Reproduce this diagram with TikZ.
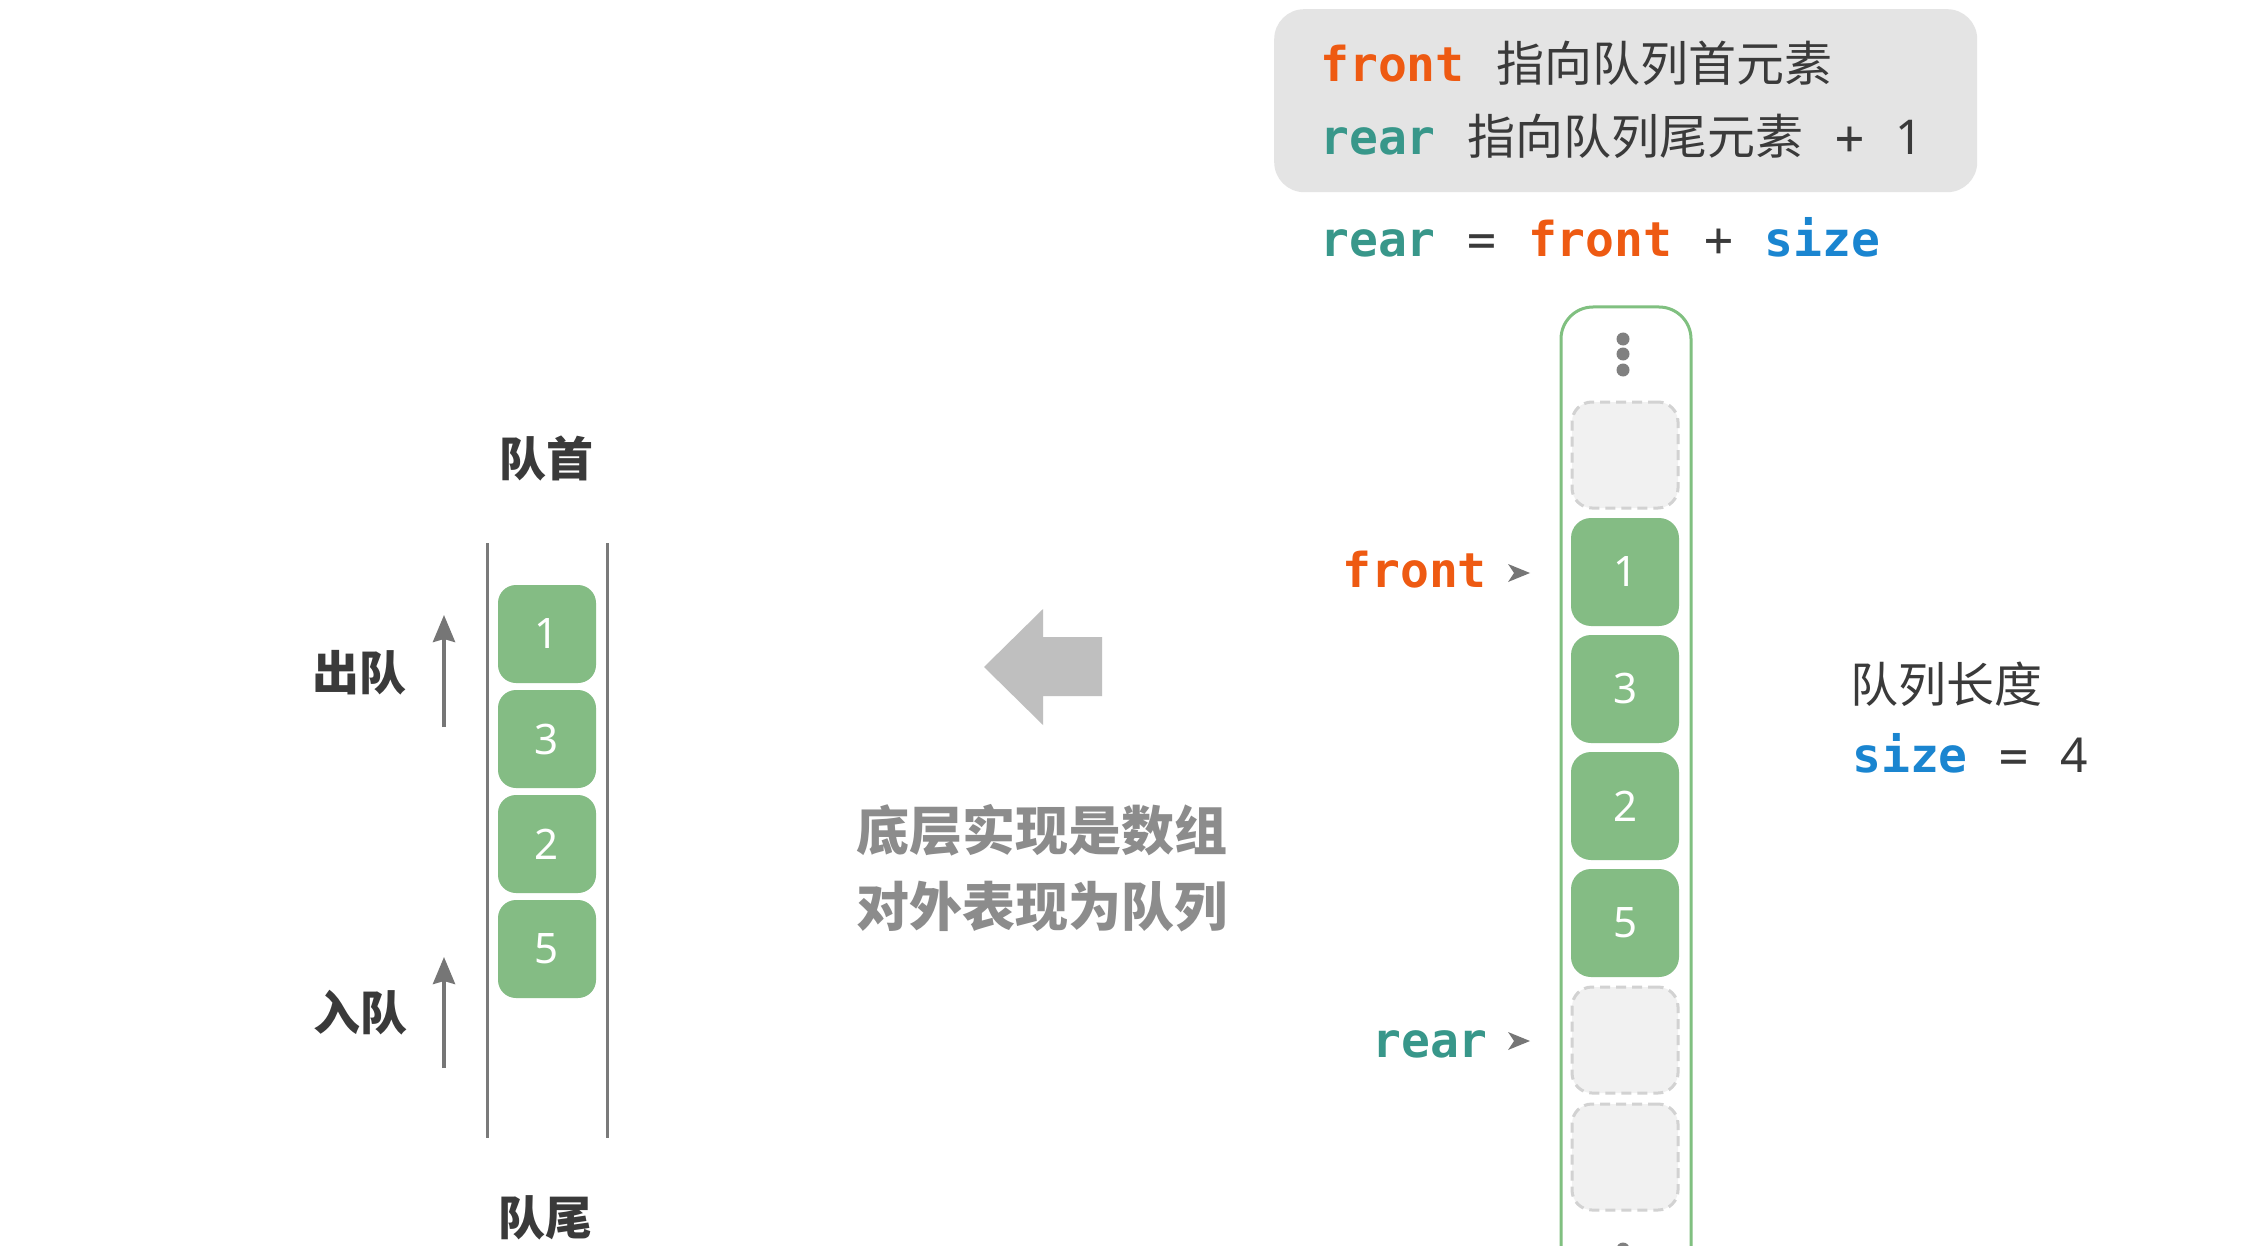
\documentclass[tikz,border=0pt]{standalone}
\usepackage{fontspec}
\setmonofont{DejaVu Sans Mono}
\newfontfamily\cjk{Noto Sans CJK SC}
\newfontfamily\numfont{Noto Sans}
\usetikzlibrary{arrows.meta}
\definecolor{frontc}{HTML}{EE5A12}
\definecolor{rearc}{HTML}{38978A}
\definecolor{sizec}{HTML}{1A85D0}
\definecolor{txt}{HTML}{3A3A3A}
\definecolor{cellg}{HTML}{84BC84}
\definecolor{borderg}{HTML}{80C080}
\definecolor{emptyf}{HTML}{F1F1F1}
\definecolor{emptyd}{HTML}{D2D2D2}
\definecolor{legbg}{HTML}{E4E4E4}
\definecolor{arrowg}{HTML}{767676}
\definecolor{lineg}{HTML}{7A7A7A}
\definecolor{bigarrow}{HTML}{BFBFBF}
\definecolor{midtxt}{HTML}{8C8C8C}
\definecolor{dotg}{HTML}{808080}
\newcommand\myfs[1]{\fontsize{#1}{#1}\selectfont}
\newcommand\msp{\hspace{0.66em}}
\tikzset{
  cell/.style={rounded corners=20, minimum width=108, minimum height=108, inner sep=0,
    fill=cellg, text=white, font=\numfont\myfs{42}},
  lcell/.style={cell, rounded corners=18, minimum width=98, minimum height=98},
  emptycell/.style={rounded corners=20, minimum width=106, minimum height=106, inner sep=0,
    fill=emptyf, draw=emptyd, line width=3, dash pattern=on 10 off 6},
  kw/.style={font=\ttfamily\bfseries\myfs{48}, inner sep=0, anchor=base west},
  lbl/.style={font=\cjk\bfseries\myfs{47}, text=txt, inner sep=0},
  midlbl/.style={font=\cjk\bfseries\myfs{53}, text=midtxt, inner sep=0},
  uparrow/.style={line width=4, draw=arrowg, -{Stealth[length=27pt, width=22pt, inset=3pt]}},
  chan/.style={line width=3, draw=lineg},
  ptr/.style={fill=arrowg}
}
\begin{document}
\begin{tikzpicture}[x=1pt,y=-1pt]
\useasboundingbox (0,0) rectangle (2258,1246);
\fill[white] (0,0) rectangle (2258,1246);

% legend box
\node[fill=legbg, rounded corners=30, minimum width=703, minimum height=183, inner sep=0, anchor=north west] (legend) at (1274,9) {};
\node[kw] (l1) at (1320,82) {{\color{frontc}front}\msp{\cjk\mdseries\color{txt}指向队列首元素}};
\node[kw] (l2) at (1320,155) {{\color{rearc}rear}\msp{\cjk\mdseries\color{txt}指向队列尾元素}{\mdseries\color{txt}\msp+\msp{\numfont 1}}};
\node[kw] (l3) at (1320,257) {{\color{rearc}rear}{\mdseries\color{txt}\msp=\msp}{\color{frontc}front}{\mdseries\color{txt}\msp+\msp}{\color{sizec}size}};

% left queue
\node[lbl] (head) at (546,458) {队首};
\node[lbl] (tail) at (545,1218) {队尾};
\node[lbl] (deq) at (359,673) {出队};
\node[lbl] (enq) at (360,1013) {入队};
\coordinate (chl1) at (487,543); \coordinate (chl2) at (487,1138);
\coordinate (chr1) at (607,543); \coordinate (chr2) at (607,1138);
\draw[chan] (chl1) -- (chl2);
\draw[chan] (chr1) -- (chr2);
\node[lcell] (q1) at (547,634) {1};
\node[lcell] (q3) at (547,739) {3};
\node[lcell] (q2) at (547,844) {2};
\node[lcell] (q5) at (547,949) {5};
\coordinate (deqs) at (444,727); \coordinate (deqe) at (444,615);
\coordinate (enqs) at (444,1068); \coordinate (enqe) at (444,957);
\draw[uparrow] (deqs) -- (deqe);
\draw[uparrow] (enqs) -- (enqe);

% middle
\fill[bigarrow] (984,667) -- (1043,609) -- (1043,637) -- (1102,637) -- (1102,696) -- (1043,696) -- (1043,725) -- cycle;
\node[midlbl] (mid1) at (1042,830) {底层实现是数组};
\node[midlbl] (mid2) at (1042,907) {对外表现为队列};

% right array
\begin{scope}
\clip (0,0) rectangle (2258,1246);
\draw[borderg, line width=3, rounded corners=32] (1561,307) rectangle (1691,1340);
\foreach \yy in {339,354,370,1249,1264,1280} \fill[dotg] (1623,\yy) circle (6.5);
\end{scope}
\node[emptycell] (a0) at (1625,455) {};
\node[cell] (a1) at (1625,572) {1};
\node[cell] (a2) at (1625,689) {3};
\node[cell] (a3) at (1625,806) {2};
\node[cell] (a4) at (1625,923) {5};
\node[emptycell] (a5) at (1625,1040) {};
\node[emptycell] (a6) at (1625,1157) {};

\node[kw, anchor=base east, text=frontc] (flab) at (1487,587) {front};
\node[kw, anchor=base east, text=rearc] (rlab) at (1488,1057) {rear};
\fill[ptr] (1508,564) -- (1530,573) -- (1508,582) -- (1514,573) -- cycle;
\fill[ptr] (1508,1032) -- (1530,1041) -- (1508,1050) -- (1514,1041) -- cycle;

\node[font=\cjk\myfs{48}, text=txt, anchor=west, inner sep=0] (qlen) at (1850,684) {队列长度};
\node[kw] (sz) at (1852,772) {{\color{sizec}size}{\mdseries\color{txt}\msp=\msp{\numfont 4}}};
\end{tikzpicture}
\end{document}
